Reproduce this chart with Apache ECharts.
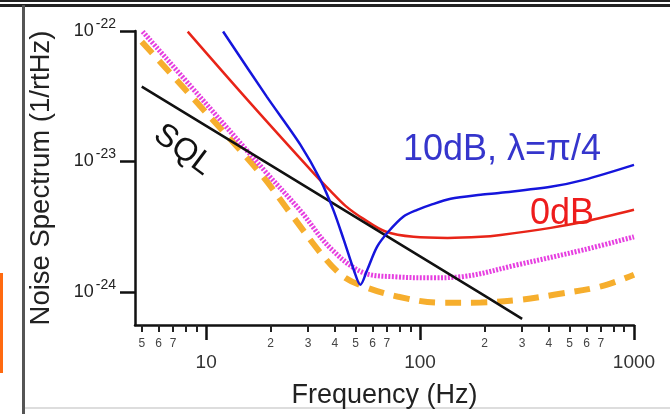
<!DOCTYPE html>
<html>
<head>
<meta charset="utf-8">
<script src="https://cdn.jsdelivr.net/npm/echarts@6/dist/echarts.min.js"></script>
<style>
  html, body { margin: 0; padding: 0; background: #fff; }
  #chart { width: 670px; height: 414px; }
</style>
</head>
<body>
<div id="chart"></div>
<script>
// 坐标刻度
const minorTickFreq = [5, 6, 7, 8, 9, 20, 30, 40, 50, 60, 70, 80, 90, 200, 300, 400, 500, 600, 700, 800, 900];
const minorLabelFreq = [5, 6, 7, 20, 30, 40, 50, 60, 70, 200, 300, 400, 500, 600, 700];
const majorFreq = [10, 100, 1000];
const noiseTicks = [1e-24, 1e-23, 1e-22];
const noiseMin = 5.56e-25;
const noiseMax = 1e-22;

// SQL
const sqlFreq = [5, 10, 20, 50, 100, 200, 300];
const sqlNoise = [3.74e-23, 1.87e-23, 9.35e-24, 3.74e-24, 1.87e-24, 9.35e-25, 6.2e-25];

// 0dB
const redFreq = [8.2, 16.1, 31.7, 38.1, 44.8, 54.4, 68.9, 93.2, 134.5, 192, 238, 408, 583, 1000];
const redNoise = [9.9e-23, 2.8e-23, 8.17e-24, 5.94e-24, 4.56e-24, 3.62e-24, 2.9e-24, 2.64e-24, 2.59e-24, 2.64e-24, 2.73e-24, 3.09e-24, 3.44e-24, 4.25e-24];

// 10dB, lambda = pi/4
const blueFreq = [12.0, 19.2, 27.6, 34.2, 39.3, 44.0, 49.0, 52.6, 56.6, 63.0, 71.2, 83.7, 97, 112, 139, 192, 238, 408, 583, 1000];
const blueNoise = [9.9e-23, 3.14e-23, 1.34e-23, 7.21e-24, 4.25e-24, 2.5e-24, 1.47e-24, 1.13e-24, 1.47e-24, 2.22e-24, 2.9e-24, 3.78e-24, 4.25e-24, 4.64e-24, 5.16e-24, 5.54e-24, 5.74e-24, 6.38e-24, 7.21e-24, 9.4e-24];

// 点线 (magenta)
const magFreq = [5.05, 9.37, 19.2, 27.6, 38.1, 54.4, 78.2, 112, 160, 285, 583, 1000];
const magNoise = [9.9e-23, 3.12e-23, 8.12e-24, 4.18e-24, 2.16e-24, 1.40e-24, 1.30e-24, 1.28e-24, 1.31e-24, 1.61e-24, 2.10e-24, 2.64e-24];

// 虚线 (orange)
const orgFreq = [5.0, 9.37, 17.9, 24.7, 35.3, 43.8, 54.4, 78.2, 125, 192, 296, 422, 700, 1000];
const orgNoise = [8.28e-23, 2.66e-23, 8.12e-24, 4.03e-24, 1.87e-24, 1.31e-24, 1.10e-24, 9.2e-25, 8.24e-25, 8.27e-25, 8.69e-25, 9.48e-25, 1.10e-24, 1.35e-24];

function zip(xs, ys) {
    return xs.map((x, i) => [x, ys[i]]);
}

const FONT = '"Liberation Sans", Arial, sans-serif';
const chart = echarts.init(document.getElementById('chart'));

function lineSeries(name, xs, ys, color, width, type, smooth) {
    return {
        name: name,
        type: 'line',
        xAxisIndex: 0,
        yAxisIndex: 0,
        data: zip(xs, ys),
        showSymbol: false,
        smooth: smooth,
        lineStyle: { color: color, width: width, type: type, cap: 'butt' },
        emphasis: { disabled: true }
    };
}

const option = {
    animation: false,
    backgroundColor: '#fff',
    grid: { left: 135, top: 31, right: 36, bottom: 89 },
    xAxis: [
        {
            type: 'log',
            logBase: 10,
            min: 4.65,
            max: 1000,
            name: 'Frequency (Hz)',
            nameLocation: 'middle',
            nameGap: 57,
            nameTextStyle: { fontSize: 27, color: '#222', fontFamily: FONT },
            axisLine: { onZero: false, lineStyle: { color: '#111', width: 2.5 } },
            axisTick: { customValues: minorTickFreq, length: 7, lineStyle: { color: '#222', width: 2 } },
            axisLabel: {
                customValues: minorLabelFreq,
                margin: 13,
                fontSize: 12,
                color: '#444',
                fontFamily: FONT,
                formatter: v => String(Math.round(v)).charAt(0)
            },
            splitLine: { show: false }
        },
        {
            type: 'log',
            logBase: 10,
            min: 4.65,
            max: 1000,
            position: 'bottom',
            axisLine: { show: false },
            axisTick: { customValues: majorFreq, length: 15, lineStyle: { color: '#111', width: 2.5 } },
            axisLabel: {
                customValues: majorFreq,
                margin: 28,
                fontSize: 19,
                color: '#333',
                fontFamily: FONT,
                formatter: v => String(Math.round(v))
            },
            splitLine: { show: false }
        }
    ],
    yAxis: [
        {
            type: 'log',
            logBase: 10,
            min: noiseMin,
            max: noiseMax,
            name: 'Noise Spectrum (1/rtHz)',
            nameLocation: 'middle',
            nameGap: 80,
            nameTextStyle: { fontSize: 27.5, color: '#222', fontFamily: FONT },
            axisLine: { show: true, lineStyle: { color: '#111', width: 2.5 } },
            axisTick: { show: false },
            axisLabel: { show: false },
            splitLine: { show: false }
        },
        {
            // 标签轴 (指数空间)
            type: 'value',
            min: Math.log10(noiseMin),
            max: Math.log10(noiseMax),
            position: 'left',
            axisLine: { show: false },
            axisTick: { customValues: noiseTicks.map(v => Math.log10(v)), length: 15, lineStyle: { color: '#111', width: 2.5 } },
            axisLabel: {
                customValues: noiseTicks.map(v => Math.log10(v)),
                margin: 19,
                fontFamily: FONT,
                formatter: v => '{b|10}{s|' + Math.round(v) + '}',
                rich: {
                    b: { fontSize: 18, color: '#222', fontFamily: FONT },
                    s: { fontSize: 14, color: '#222', fontFamily: FONT, padding: [0, 0, 14, 2] }
                }
            },
            splitLine: { show: false }
        }
    ],
    series: [
        lineSeries('orange', orgFreq, orgNoise, '#f6ae2d', 6, [16, 10], 0.35),
        lineSeries('magenta', magFreq, magNoise, '#e63fe0', 5, [2, 1.5], 0.35),
        lineSeries('0dB', redFreq, redNoise, '#e82418', 2.5, 'solid', 0.35),
        lineSeries('SQL', sqlFreq, sqlNoise, '#111', 2.5, 'solid', false),
        lineSeries('10dB', blueFreq, blueNoise, '#1515dc', 2.5, 'solid', 0.3)
    ],
    graphic: [
        { type: 'rect', shape: { x: 0, y: 0, width: 670, height: 2 }, style: { fill: '#222' }, silent: true },
        { type: 'rect', shape: { x: 0, y: 4, width: 670, height: 3 }, style: { fill: '#222' }, silent: true },
        { type: 'rect', shape: { x: 22, y: 5, width: 3, height: 409 }, style: { fill: '#555' }, silent: true },
        { type: 'rect', shape: { x: 25, y: 407, width: 645, height: 2 }, style: { fill: '#ddd' }, silent: true },
        { type: 'rect', shape: { x: 0, y: 273, width: 3, height: 100 }, style: { fill: '#ff6a10' }, silent: true },
        {
            type: 'text', x: 183, y: 150, rotation: -0.64, silent: true,
            style: { text: 'SQL', fontSize: 32, fill: '#111', fontFamily: FONT, align: 'center', verticalAlign: 'middle' }
        },
        {
            type: 'text', x: 502, y: 150, silent: true,
            style: { text: '10dB, λ=π/4', fontSize: 36, fill: '#3535cc', fontFamily: FONT, align: 'center', verticalAlign: 'middle' }
        },
        {
            type: 'text', x: 562, y: 214, silent: true,
            style: { text: '0dB', fontSize: 36, fill: '#ee1c1c', fontFamily: FONT, align: 'center', verticalAlign: 'middle' }
        }
    ]
};

chart.setOption(option);
</script>
</body>
</html>
